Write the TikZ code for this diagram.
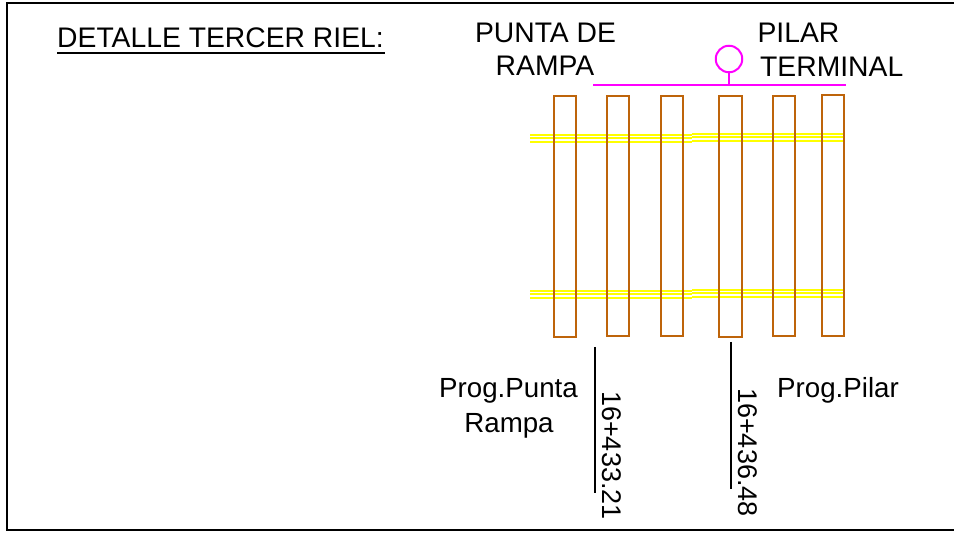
\documentclass[tikz,border=0pt]{standalone}
\usepackage{fontspec}
\setmainfont{Liberation Sans}
\definecolor{tie}{RGB}{190,100,10}
\definecolor{railc}{RGB}{255,255,0}
\definecolor{mag}{RGB}{255,0,255}
\tikzset{
  x=1pt,y=-1pt,
  lbl/.style={inner sep=0pt,font=\fontsize{27.7}{27.7}\selectfont,text=black},
  ttl/.style={inner sep=0pt,font=\fontsize{28.3}{28.3}\selectfont,text=black},
  num/.style={inner sep=0pt,font=\fontsize{27}{27}\selectfont,text=black},
  sleeper/.style={draw=tie,line width=2pt},
  railline/.style={draw=railc,line width=2pt},
  pline/.style={draw=mag,line width=2pt},
  tick/.style={draw=black,line width=2pt},
  frameb/.style={draw=black,line width=2pt}
}
\begin{document}
\begin{tikzpicture}
\useasboundingbox (0,0) rectangle (954,540);
\draw[frameb] (7,3) rectangle (960,530);
\node[ttl,anchor=base west] (title) at (57,48) {DETALLE TERCER RIEL:};
\draw[black,line width=2pt] (57,53) -- (385,53);
\node[ttl,anchor=base] (pr1) at (545.5,43) {PUNTA DE};
\node[ttl,anchor=base] (pr2) at (545,76) {RAMPA};
\node[ttl,anchor=base] (pt1) at (798.5,43) {PILAR};
\node[ttl,anchor=base west] (pt2) at (760,77) {TERMINAL};
% rails
\foreach \yy in {135,138,142}{\draw[railline] (530,\yy) -- (692,\yy);\draw[railline] (692,\yy-1) -- (845,\yy-1);}
\foreach \yy in {291,294,298}{\draw[railline] (530,\yy) -- (692,\yy);\draw[railline] (692,\yy-1) -- (845,\yy-1);}
% sleepers
\draw[sleeper] (554,96) -- (576,96) -- (576,337) -- (554,337) -- cycle;
\draw[sleeper] (607,96) -- (629,96) -- (629,336) -- (607,336) -- cycle;
\draw[sleeper] (661,96) -- (683,96) -- (683,336) -- (661,336) -- cycle;
\draw[sleeper] (719,96) -- (742,96) -- (742,337) -- (719,337) -- cycle;
\draw[sleeper] (773,96) -- (795,96) -- (795,336) -- (773,336) -- cycle;
\draw[sleeper] (822,95) -- (844,95) -- (844,336) -- (822,336) -- cycle;
% pilar
\node[circle,draw=mag,line width=2pt,minimum size=26.5pt,inner sep=0pt] (c) at (729,59) {};
\coordinate (ln) at (729,85);
\draw[pline] (593,85) -- (692,85);
\draw[pline] (692,85) -- (846,85);
\draw[pline] (c.south) -- (ln);
% labels
\node[lbl,anchor=base] (pp1) at (508.5,397) {Prog.Punta};
\node[lbl,anchor=base] (pp2) at (509,432) {Rampa};
\node[lbl,anchor=base west] (pp3) at (777,397) {Prog.Pilar};
\coordinate (a1) at (595,347); \coordinate (a2) at (595,493);
\coordinate (b1) at (731,342); \coordinate (b2) at (731,489);
\draw[tick] (a1) -- (a2);
\draw[tick] (b1) -- (b2);
\node[num,rotate=-90,anchor=base west] (v1) at (602.5,391) {16+433.21};
\node[num,rotate=-90,anchor=base west] (v2) at (738,388) {16+436.48};
\end{tikzpicture}
\end{document}
